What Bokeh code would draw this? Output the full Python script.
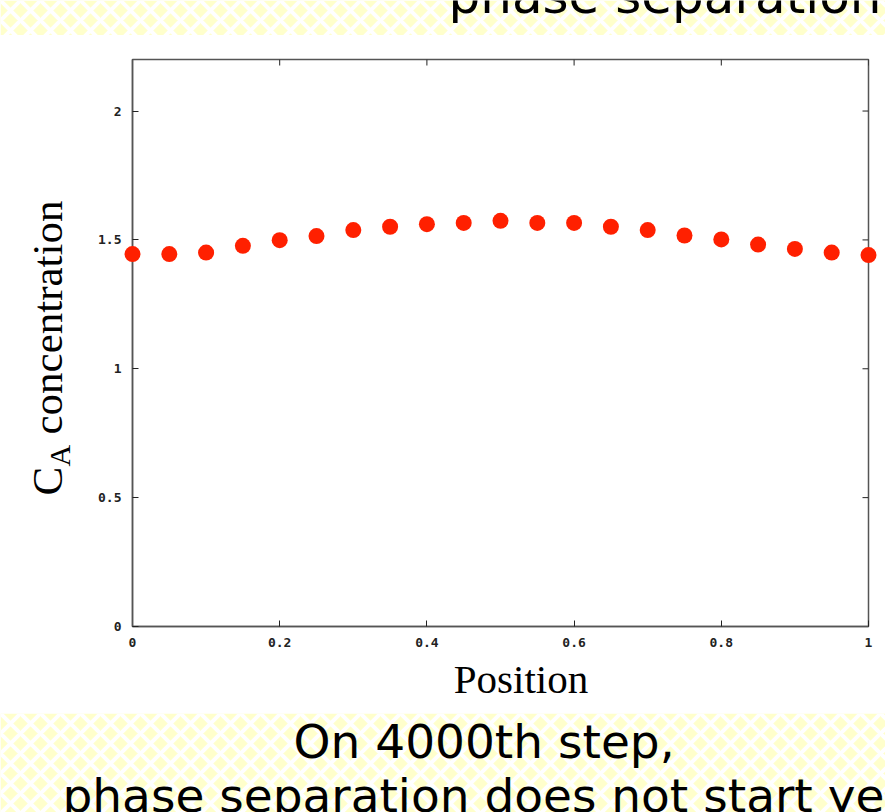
import math
from bokeh.plotting import figure
from bokeh.models import Label, FixedTicker, BoxAnnotation, Range1d
from bokeh.layouts import column, row
from bokeh.embed import file_html
from bokeh.resources import INLINE

# ---- data ----
positions = [0.0, 0.05, 0.10, 0.15, 0.20, 0.25, 0.30, 0.35, 0.40, 0.45, 0.50,
             0.55, 0.60, 0.65, 0.70, 0.75, 0.80, 0.85, 0.90, 0.95, 1.00]
concentration = [1.445, 1.445, 1.451, 1.477, 1.499, 1.515, 1.538, 1.551, 1.561, 1.566, 1.574,
                 1.566, 1.566, 1.551, 1.538, 1.517, 1.502, 1.482, 1.465, 1.451, 1.441]
x_ticks = [0.0, 0.2, 0.4, 0.6, 0.8, 1.0]
x_tick_labels = ["0", "0.2", "0.4", "0.6", "0.8", "1"]
y_ticks = [0.0, 0.5, 1.0, 1.5, 2.0]
y_tick_labels = ["0", "0.5", "1", "1.5", "2"]
x_min, x_max = 0.0, 1.0
y_min, y_max = 0.0, 2.2
title_text = "phase separation"
caption_line1 = "On 4000th step,"
caption_line2 = "phase separation does not start yet"

W = 885
TOP_H = 35
MID_H = 678
BOT_H = 99
YLAB_W = 80
SLIDE_FONT = "DejaVu Sans"
SERIF = "Liberation Serif"
TICK_FONT = "DejaVu Sans Mono"
FRAME_COLOR = "#555555"


def blank(width, height):
    b = figure(width=width, height=height, output_backend="svg", toolbar_location=None,
               x_axis_location=None, y_axis_location=None, min_border=0,
               x_range=Range1d(0, 1), y_range=Range1d(0, 1))
    b.outline_line_color = None
    b.grid.visible = False
    b.background_fill_color = "white"
    b.border_fill_color = "white"
    return b


def band(height):
    b = blank(W, height)
    b.add_layout(BoxAnnotation(fill_color="#ffffcc", fill_alpha=1.0, line_color=None,
                               hatch_pattern="diagonal_cross", hatch_color="white",
                               hatch_weight=4, hatch_scale=20, level="underlay"))
    return b


def slide_label(x, y, text, size="47px"):
    return Label(x=x, y=y, x_units="screen", y_units="screen", text=text,
                 text_font=SLIDE_FONT, text_font_size=size, text_color="black",
                 text_baseline="middle", text_align="left", level="overlay")


# ---- top band ----
top = band(TOP_H)
top.add_layout(slide_label(448, 40, title_text, "50px"))

# ---- y-axis label strip: C_A concentration (with subscript) ----
ylab = blank(YLAB_W, MID_H)
for x, y, txt, size in ((47, 218, "C", "43px"), (59, 247, "A", "30px"),
                        (47, 279, "concentration", "43px")):
    ylab.add_layout(Label(x=x, y=y, x_units="screen", y_units="screen", text=txt,
                          angle=math.pi / 2, text_font=SERIF, text_font_size=size,
                          text_color="black", text_align="left", text_baseline="middle"))

# ---- main chart ----
p = figure(width=W - YLAB_W, height=MID_H, output_backend="svg", toolbar_location=None,
           x_range=Range1d(x_min, x_max), y_range=Range1d(y_min, y_max),
           min_border_left=132 - YLAB_W, min_border_right=17, min_border_top=24,
           min_border_bottom=87)
p.background_fill_color = "white"
p.border_fill_color = "white"
p.outline_line_color = FRAME_COLOR
p.outline_line_width = 1.5
p.grid.visible = False

p.scatter(positions, concentration, size=16, color="#ff2000", line_color=None, level="overlay")

for ax, ticks, labels in ((p.xaxis[0], x_ticks, x_tick_labels), (p.yaxis[0], y_ticks, y_tick_labels)):
    ax.ticker = FixedTicker(ticks=ticks)
    ax.major_label_overrides = {t: l for t, l in zip(ticks, labels)}
    ax.major_tick_in = 6
    ax.major_tick_out = 0
    ax.minor_tick_line_color = None
    ax.axis_line_color = FRAME_COLOR
    ax.axis_line_width = 1.5
    ax.major_tick_line_color = "#222222"
    ax.major_label_text_font = TICK_FONT
    ax.major_label_text_font_style = "bold"
    ax.major_label_text_font_size = "13px"
    ax.major_label_text_color = "#222222"
    ax.major_label_standoff = 11

# mirrored tick marks on top and right edges (gnuplot style)
p.ray(x=x_ticks, y=[y_max] * len(x_ticks), length=6, length_units="screen",
      angle=-math.pi / 2, line_color="#222222", line_width=1)
p.ray(x=[x_max] * len(y_ticks), y=y_ticks, length=6, length_units="screen",
      angle=math.pi, line_color="#222222", line_width=1)

# x axis label (shifted right with no-break spaces, as in the original)
p.xaxis[0].axis_label = "\u00a0\u00a0\u00a0\u00a0Position"
p.xaxis[0].axis_label_text_font = SERIF
p.xaxis[0].axis_label_text_font_style = "normal"
p.xaxis[0].axis_label_text_font_size = "41px"
p.xaxis[0].axis_label_text_color = "black"
p.xaxis[0].axis_label_standoff = 6

# ---- bottom band ----
bot = band(BOT_H)
bot.add_layout(slide_label(293, 71, caption_line1))
bot.add_layout(slide_label(62, 17, caption_line2))

layout = column(column(top), row(column(ylab), column(p), spacing=0), column(bot), spacing=0)
open("out.html", "w").write(file_html(layout, INLINE))
